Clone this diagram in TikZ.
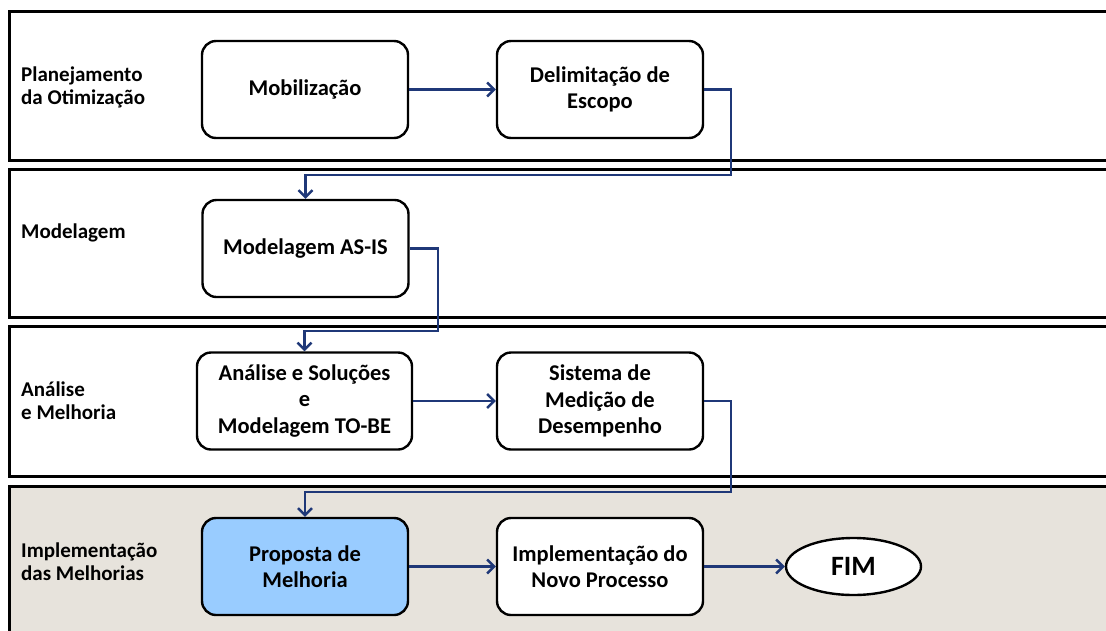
\documentclass[tikz,border=0pt]{standalone}
\usepackage{fontspec}
\setmainfont{Carlito}
\usetikzlibrary{arrows.meta,shapes.geometric}
\definecolor{flowblue}{RGB}{31,56,120}
\definecolor{laneshade}{RGB}{231,227,220}
\definecolor{highlight}{RGB}{153,204,255}
\begin{document}
\begin{tikzpicture}[x=1pt,y=-1pt,
  lane/.style={draw=black,line width=3pt},
  stepbox/.style={draw=black,line width=2.4pt,rounded corners=14pt,fill=white,
    minimum width=206pt,minimum height=97pt,align=center,inner sep=2pt,
    font=\bfseries\fontsize{22.5}{26.5}\selectfont},
  endnode/.style={ellipse,draw=black,line width=2.4pt,fill=white,
    minimum width=135pt,minimum height=57pt,inner sep=0pt,
    font=\bfseries\fontsize{28}{30}\selectfont},
  flow/.style={draw=flowblue,line width=2.4pt,
    -{Straight Barb[length=7pt,width=14pt,line width=2.4pt]}},
  lanelabel/.style={anchor=west,align=left,inner sep=0pt,
    font=\bfseries\fontsize{21}{23}\selectfont}]
\useasboundingbox (0,0) rectangle (1106,630);

% swimlanes
\begin{scope}
\clip (0,0) rectangle (1106,630);
\draw[lane] (9,11) rectangle (1125,160);
\draw[lane] (9,169) rectangle (1125,317);
\draw[lane] (9,326) rectangle (1125,476);
\draw[lane,fill=laneshade] (9,486) rectangle (1125,650);
\end{scope}

% lane titles
\node[lanelabel] (l1) at (21,87) {Planejamento\\da Otimização};
\node[lanelabel] (l2) at (21,233) {Modelagem};
\node[lanelabel] (l3) at (21,401) {Análise\\e Melhoria};
\node[lanelabel] (l4) at (21,562) {Implementação\\das Melhorias};

% process steps
\node[stepbox] (mob) at (305,89.5) {Mobilização};
\node[stepbox] (delim) at (600,89.5) {Delimitação de\\Escopo};
\node[stepbox] (model) at (305.5,248.5) {Modelagem AS-IS};
\node[stepbox,minimum width=215pt] (anal) at (304.5,401) {Análise e Soluções\\e\\Modelagem TO-BE};
\node[stepbox] (sist) at (600,401) {Sistema de\\Medição de\\Desempenho};
\node[stepbox,fill=highlight] (prop) at (305,566.5) {Proposta de\\Melhoria};
\node[stepbox] (impl) at (600,566.5) {Implementação do\\Novo Processo};
\node[endnode] (fim) at (853.5,566.5) {FIM};

% flow
\draw[flow] (mob.east) -- (delim.west);
\draw[flow] (delim.east) -- ++(27,0) -- ++(0,85.5) -| (model.north);
\draw[flow] (model.east) -- ++(28,0) -- ++(0,82.5) -| (anal.north);
\draw[flow] (anal.east) -- (sist.west);
\draw[flow] (sist.east) -- ++(27,0) -- ++(0,91) -| (prop.north);
\draw[flow] (prop.east) -- (impl.west);
\draw[flow] (impl.east) -- (fim.west);
\end{tikzpicture}
\end{document}
